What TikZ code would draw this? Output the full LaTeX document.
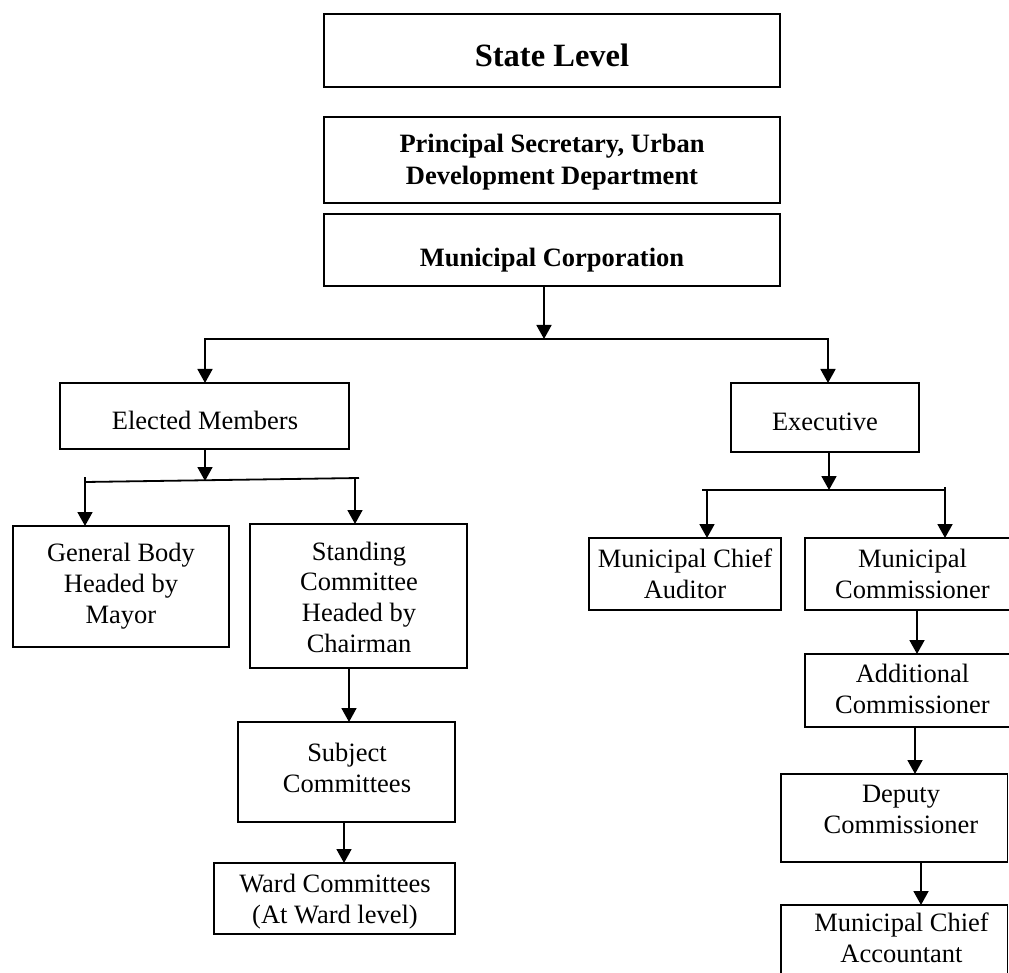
\documentclass[tikz,border=0pt]{standalone}
\usepackage{fontspec}
\setmainfont{Liberation Serif}
\usetikzlibrary{arrows.meta}
\begin{document}
\begin{tikzpicture}[x=1pt,y=-1pt,
  box/.style={draw, line width=1.8pt, inner sep=0pt, outer sep=0pt},
  txt/.style={align=center, inner sep=0pt, anchor=base, font=\fontsize{26.5}{30.6}\selectfont},
  btxt/.style={align=center, inner sep=0pt, anchor=base, font=\fontsize{26.5}{32}\selectfont\bfseries},
  ln/.style={line width=1.8pt},
  arr/.style={line width=1.8pt, -{Triangle[width=15pt,length=14pt]}}]
\useasboundingbox (0,0) rectangle (1009,973);
\clip (0,0) rectangle (1009,973);
% boxes
\node[box, minimum width=456pt, minimum height=73pt] (state) at (552,50.5) {};
\node[box, minimum width=456pt, minimum height=86pt] (psec) at (552,160) {};
\node[box, minimum width=456pt, minimum height=72pt] (mc) at (552,250) {};
\node[box, minimum width=289pt, minimum height=66pt] (em) at (204.5,416) {};
\node[box, minimum width=188pt, minimum height=69pt] (ex) at (825,417.5) {};
\node[box, minimum width=216pt, minimum height=121pt] (gb) at (121,586.5) {};
\node[box, minimum width=217pt, minimum height=144pt] (sc) at (358.5,596) {};
\node[box, minimum width=217pt, minimum height=100pt] (subj) at (346.5,772) {};
\node[box, minimum width=241pt, minimum height=71pt] (ward) at (334.5,898.5) {};
\node[box, minimum width=192pt, minimum height=72pt] (aud) at (685,574) {};
\node[box, minimum width=215pt, minimum height=72pt] (com) at (912.5,574) {};
\node[box, minimum width=215pt, minimum height=73pt] (add) at (912.5,690.5) {};
\node[box, minimum width=226.5pt, minimum height=88pt] (dep) at (894.25,818) {};
\node[box, minimum width=226.5pt, minimum height=95pt] (acc) at (894.25,952.5) {};
% texts (anchor base = baseline of the last line)
\node[btxt, font=\fontsize{32.5}{36}\selectfont\bfseries] (state-t) at (552,67) {State Level};
\node[btxt] (psec-t) at (552,185) {Principal Secretary, Urban\\Development Department};
\node[btxt] (mc-t) at (552,267) {Municipal Corporation};
\node[txt] (em-t) at (205,429) {Elected Members};
\node[txt] (ex-t) at (825,430) {Executive};
\node[txt] (gb-t) at (121,623) {General Body\\Headed by\\Mayor};
\node[txt] (sc-t) at (359,652) {Standing\\Committee\\Headed by\\Chairman};
\node[txt] (subj-t) at (347,792) {Subject\\Committees};
\node[txt] (ward-t) at (335,923) {Ward Committees\\(At Ward level)};
\node[txt] (aud-t) at (685,598) {Municipal Chief\\Auditor};
\node[txt] (com-t) at (912.5,598) {Municipal\\Commissioner};
\node[txt] (add-t) at (912.5,713) {Additional\\Commissioner};
\node[txt] (dep-t) at (901,833) {Deputy\\Commissioner};
\node[txt] (acc-t) at (901.5,962) {Municipal Chief\\Accountant};
% junctions
\coordinate (j0) at (544,339);
\coordinate (jL) at (205,339);
\coordinate (jR) at (828,339);
\coordinate (e0) at (205,481);
\coordinate (eL) at (85,482);
\coordinate (eR) at (359,478);
\coordinate (eLs) at (85,477);
\coordinate (eRs) at (355,478);
\coordinate (x0) at (829,490);
\coordinate (xL) at (702,490);
\coordinate (xR) at (945,490);
\coordinate (xLd) at (707,490);
\coordinate (xRd) at (945,487);
% connectors
\draw[arr] (mc.south -| j0) -- (j0);
\draw[arr] (j0) -- (jL) -- (em.north -| jL);
\draw[arr] (j0) -- (jR) -- (ex.north -| jR);
\draw[arr] (em.south -| e0) -- (e0);
\draw[ln] (eL) -- (eR);
\draw[arr] (eLs) -- (gb.north -| eLs);
\draw[arr] (eRs) -- (sc.north -| eRs);
\draw[arr] (ex.south -| x0) -- (x0);
\draw[ln] (xL) -- (xR);
\draw[arr] (xLd) -- (aud.north -| xLd);
\draw[arr] (xRd) -- (com.north -| xRd);
\draw[arr] ([xshift=2.5pt]subj.north |- sc.south) -- ([xshift=2.5pt]subj.north);
\draw[arr] ([xshift=-2.5pt]subj.south) -- ([xshift=-2.5pt]subj.south |- ward.north);
\draw[arr] ([xshift=4.5pt]com.south) -- ([xshift=4.5pt]com.south |- add.north);
\draw[arr] ([xshift=2.5pt]add.south) -- ([xshift=2.5pt]add.south |- dep.north);
\draw[arr] ([xshift=26.75pt]dep.south) -- ([xshift=26.75pt]dep.south |- acc.north);
\end{tikzpicture}
\end{document}
